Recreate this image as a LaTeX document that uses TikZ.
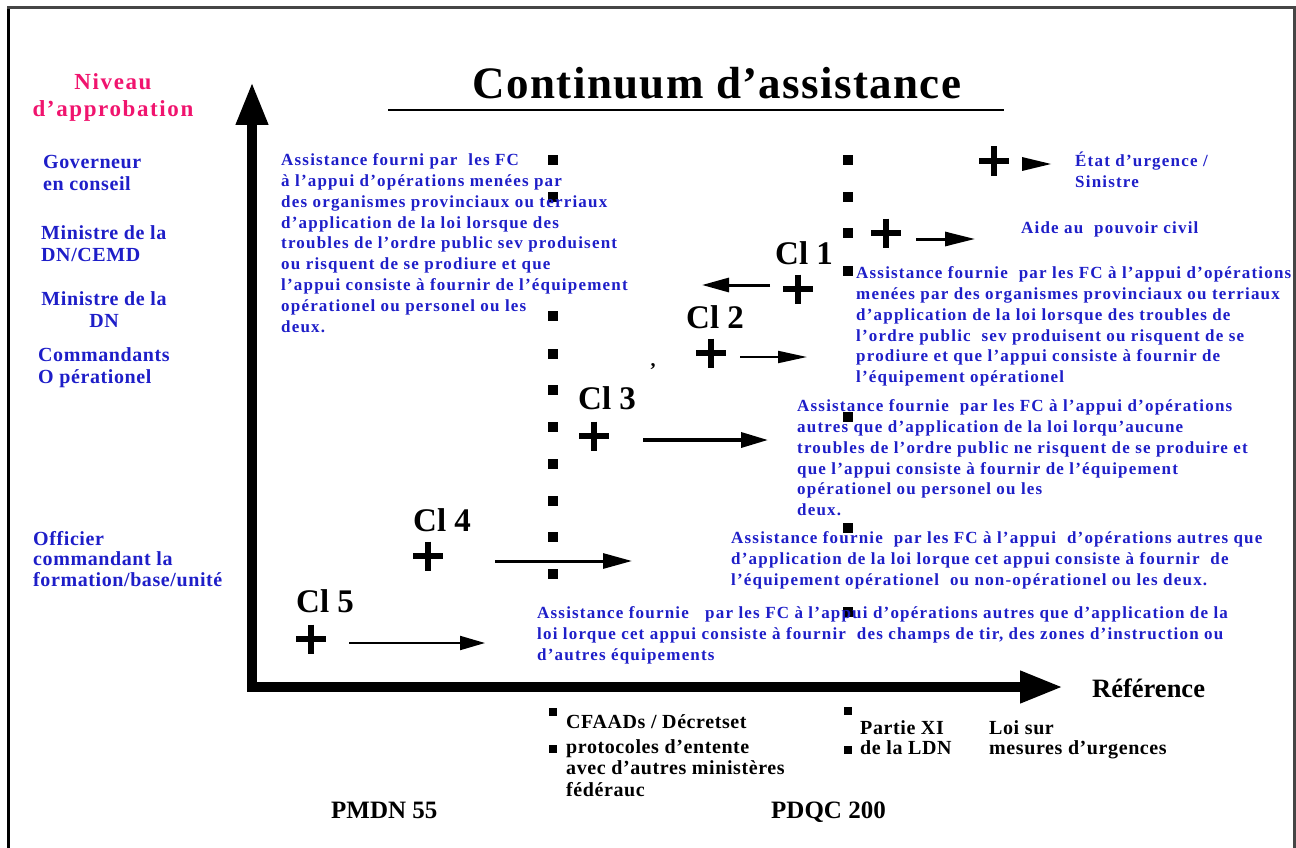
\documentclass[tikz,border=0pt]{standalone}
\usepackage{fontspec}
\usetikzlibrary{arrows.meta}
\setmainfont{Liberation Serif}
\newfontfamily\fTrackBlue{Liberation Serif}[LetterSpace=7]
\newfontfamily\fTrackSide{Liberation Serif}[LetterSpace=3]
\newfontfamily\fTrackPink{Liberation Serif}[LetterSpace=7]
\newfontfamily\fTrackTitle{Liberation Serif}[LetterSpace=3]
\definecolor{blueT}{RGB}{30,30,200}
\definecolor{pinkT}{RGB}{240,20,110}
\definecolor{frameG}{RGB}{70,70,70}

\tikzset{
  blueblock/.style={anchor=north west, inner sep=0pt, align=left, text=blueT,
    font=\fTrackBlue\bfseries\fontsize{17}{20.8}\selectfont},
  blueline/.style={anchor=base west, inner sep=0pt, text=blueT,
    font=\fTrackBlue\bfseries\fontsize{17}{20.8}\selectfont},
  sidelbl/.style={anchor=north west, inner sep=0pt, align=left, text=blueT,
    font=\fTrackSide\bfseries\fontsize{20}{22}\selectfont},
  pinklbl/.style={anchor=north, inner sep=0pt, align=center, text=pinkT,
    font=\fTrackPink\bfseries\fontsize{23}{27}\selectfont},
  cllbl/.style={anchor=base west, inner sep=0pt,
    font=\bfseries\fontsize{33}{36}\selectfont},
  reftxt/.style={anchor=base west, inner sep=0pt,
    font=\fTrackSide\bfseries\fontsize{20}{21.5}\selectfont},
  bigref/.style={anchor=base west, inner sep=0pt,
    font=\bfseries\fontsize{25}{30}\selectfont},
  dotmark/.style={rectangle, fill=black, inner sep=0pt, minimum size=9.5pt},
  smalldot/.style={rectangle, fill=black, inner sep=0pt, minimum width=7.5pt, minimum height=8.5pt},
  axis/.style={line width=10pt, line join=miter},
  plussign/.pic={\draw[line width=6.5pt] (-15,0) -- (15,0) (0,-14.5) -- (0,14.5);},
}

\begin{document}
\begin{tikzpicture}[x=1pt, y=-1pt]
\useasboundingbox (0,0) rectangle (1296,848);

% frame, open at the bottom
\draw[line width=2.5pt, black] (8.5,7) -- (8.5,848);
\draw[line width=3pt, frameG] (7,7.5) -- (1294.5,7.5) -- (1294.5,848);

% title
\node[anchor=base, inner sep=0pt, font=\fTrackTitle\bfseries\fontsize{45}{50}\selectfont] (title) at (717,99) {Continuum d’assistance};
\draw[line width=2.5pt] (388,110) -- (1004,110);

% axes
\coordinate (ytip) at (252,82);
\coordinate (orig) at (252,687);
\coordinate (xtip) at (1063,687);
\draw[axis, {Triangle[length=43pt,width=30pt]}-{Triangle[length=43pt,width=30pt]}] (ytip) -- (orig) -- (xtip);

% approval levels
\node[pinklbl] (niveau) at (113,73) {Niveau\\d’approbation};
\node[sidelbl] (gov) at (43,155) {Governeur\\en conseil};
\node[sidelbl] (mdncemd) at (41,225) {Ministre de la\\DN/CEMD};
\node[sidelbl, anchor=north, align=center] (mdn) at (104,291) {Ministre de la\\DN};
\node[sidelbl] (cmdt) at (38,347) {Commandants\\O pérationel};
\node[sidelbl, font=\fTrackSide\bfseries\fontsize{20}{20.5}\selectfont] (ocfbu) at (33,531) {Officier\\commandant la\\formation/base/unité};

% dotted separators
\foreach \y in {160,197,316,354,390,427,464,501,537,574}
  \node[dotmark] (dl\y) at (553,\y) {};
\foreach \y in {160,197,233,271,417,528,612}
  \node[dotmark] (dr\y) at (848,\y) {};
\node[smalldot] (bl1) at (553,712) {};
\node[smalldot] (bl2) at (553,749) {};
\node[smalldot] (br1) at (848,711) {};
\node[smalldot] (br2) at (848,750) {};

% assistance categories
\node[blueblock] (txtA) at (281,153.5) {Assistance fourni par~ les FC\\à l’appui d’opérations menées par\\des organismes provinciaux ou terriaux\\d’application de la loi lorsque des\\troubles de l’ordre public sev produisent\\ou risquent de se prodiure et que\\l’appui consiste à fournir de l’équipement\\opérationel ou personel ou les\\deux.};

\pic (p0) at (994,161) {plussign};
\fill (1022,157) -- (1051,164) -- (1022,171) -- cycle;
\node[blueblock] (etat) at (1075,151.5) {État d’urgence /\\Sinistre};

\pic (p1a) at (886,233) {plussign};
\coordinate (a1s) at (916,239);
\coordinate (a1e) at (975,239);
\draw[line width=3pt, -{Triangle[length=30pt,width=14pt]}] (a1s) -- (a1e);
\node[blueline] (aide) at (1021,233.5) {Aide au~ pouvoir civil};

\node[cllbl] (cl1) at (775,264) {Cl 1};
\pic (p1) at (798,289) {plussign};
\coordinate (a2s) at (770,285);
\coordinate (a2e) at (702,285);
\draw[line width=3pt, -{Triangle[length=27pt,width=14pt]}] (a2s) -- (a2e);
\node[blueblock] (txtB) at (856,266.5) {Assistance fournie~ par les FC à l’appui d’opérations\\menées par des organismes provinciaux ou terriaux\\d’application de la loi lorsque des troubles de\\l’ordre public~ sev produisent ou risquent de se\\prodiure et que l’appui consiste à fournir de\\l’équipement opérationel};

\node[cllbl] (cl2) at (686,328) {Cl 2};
\pic (p2) at (711,353) {plussign};
\coordinate (a3s) at (740,357);
\coordinate (a3e) at (807,357);
\draw[line width=2pt, -{Triangle[length=29pt,width=12pt]}] (a3s) -- (a3e);
\node[anchor=base, inner sep=0pt, font=\bfseries\fontsize{20}{20}\selectfont] (comma) at (653,366) {,};

\node[cllbl] (cl3) at (578,409) {Cl 3};
\pic (p3) at (594,436) {plussign};
\coordinate (a4s) at (643,440);
\coordinate (a4e) at (768,440);
\draw[line width=3.5pt, -{Triangle[length=27pt,width=15pt]}] (a4s) -- (a4e);
\node[blueblock] (txtC) at (797,399.5) {Assistance fournie~ par les FC à l’appui d’opérations\\autres que d’application de la loi lorqu’aucune\\troubles de l’ordre public ne risquent de se produire et\\que l’appui consiste à fournir de l’équipement\\opérationel ou personel ou les\\deux.};

\node[cllbl] (cl4) at (413,531) {Cl 4};
\pic (p4) at (428,556) {plussign};
\coordinate (a5s) at (495,561);
\coordinate (a5e) at (632,561);
\draw[line width=3pt, -{Triangle[length=29pt,width=15pt]}] (a5s) -- (a5e);
\node[blueblock] (txtD) at (731,531.5) {Assistance fournie~ par les FC à l’appui~ d’opérations autres que\\d’application de la loi lorque cet appui consiste à fournir~ de\\l’équipement opérationel~ ou non-opérationel ou les deux.};

\node[cllbl] (cl5) at (296,612) {Cl 5};
\pic (p5) at (311,639) {plussign};
\coordinate (a6s) at (349,643);
\coordinate (a6e) at (485,643);
\draw[line width=2pt, -{Triangle[length=25pt,width=14pt]}] (a6s) -- (a6e);
\node[blueblock] (txtE) at (537,606.5) {Assistance fournie~~ par les FC à l’appui d’opérations autres que d’application de la\\loi lorque cet appui consiste à fournir~ des champs de tir, des zones d’instruction ou\\d’autres équipements};

% references
\node[bigref, font=\bfseries\fontsize{26.5}{30}\selectfont] (ref) at (1092,697) {Référence};
\node[reftxt] (cfaad) at (566,728) {CFAADs / Décretset};
\node[reftxt, anchor=north west, align=left] (proto) at (566,739) {protocoles d’entente\\avec d’autres ministères\\fédérauc};
\node[reftxt] (part) at (860,734) {Partie XI};
\node[reftxt] (ldn) at (860,754) {de la LDN};
\node[reftxt] (loi) at (989,734) {Loi sur};
\node[reftxt] (mes) at (989,754) {mesures d’urgences};
\node[bigref] (pmdn) at (331,818) {PMDN 55};
\node[bigref] (pdqc) at (771,818) {PDQC 200};
\end{tikzpicture}
\end{document}
